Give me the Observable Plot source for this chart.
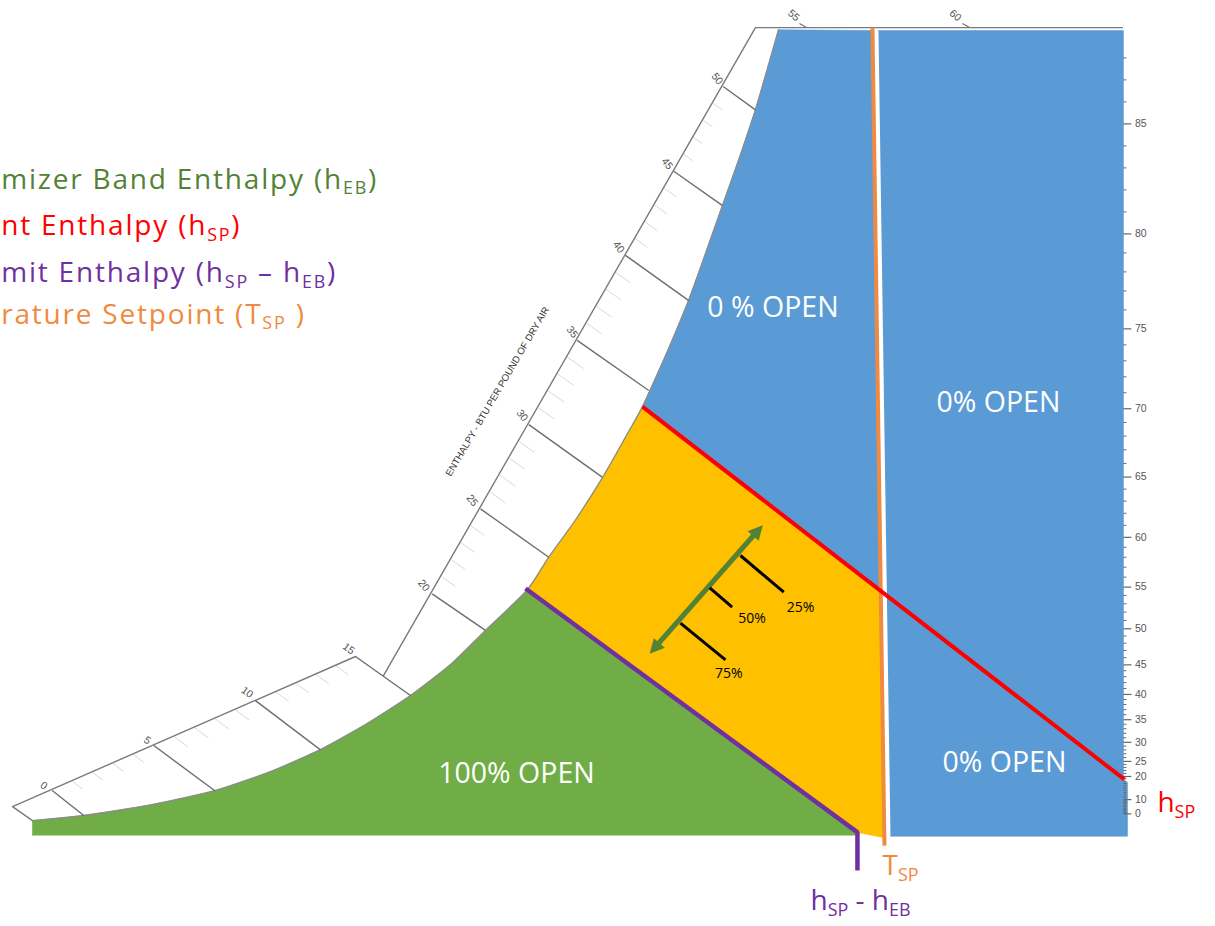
<!DOCTYPE html>
<html><head><meta charset="utf-8">
<script src="https://cdn.jsdelivr.net/npm/d3@7"></script>
<script src="https://cdn.jsdelivr.net/npm/@observablehq/plot@0.6"></script>
<style>body{margin:0;background:#fff;overflow:hidden} #chart svg{display:block}</style>
</head><body><div id="chart"></div>
<script>
// ---- Diagram data: x = dry-bulb temperature (°F), y = humidity ratio (lb water / 1000 lb dry air)
const satCurve = [[-23.35,0.48],[-15.62,0.67],[-5.47,1.06],[4.38,1.60],[12.71,2.30],[20.28,3.12],[27.10,4.05],[33.92,5.13],[39.98,6.28],[45.28,7.55],[51.65,9.07],[54.83,10.26],[59.07,11.71],[63.01,13.23],[66.65,14.80],[69.07,15.87],[73.16,18.10],[76.04,19.81],[78.62,21.56],[81.19,23.35],[83.77,25.13],[86.19,26.91],[88.01,28.44],[89.68,29.88]];
const lowLimitIdx = 10;   // saturation point where low-limit enthalpy line starts
const setpointIdx = 15;   // saturation point where setpoint enthalpy line starts
const outerLower = [[-23.35,0.48],[-26.38,1.00],[25.59,6.58]];
const outerUpper = [[29.83,5.87],[86.19,29.96],[141.8,29.96]];
const enthalpyValues = [0,5,10,15,20,25,30,35,40,45,50];
const enthalpyOuter = [[-20.37,1.60],[-4.97,3.27],[10.44,4.94],[25.59,6.58],[37.21,8.91],[44.53,12.07],[51.85,15.20],[59.18,18.33],[66.50,21.49],[73.82,24.62],[81.30,27.77]];
const enthalpyInner = [[-15.58,0.67],[4.38,1.57],[20.28,3.11],[33.92,5.13],[45.28,7.55],[54.88,10.27],[62.97,13.25],[70.03,16.47],[76.09,19.81],[81.15,23.35],[86.19,26.90]];
const enthalpyLabels = ["0","5","10","15","20","25","30","35","40","45","50","55","60"];
const enthalpyLabelPos = [[-21.64,1.78],[-5.97,3.46],[9.18,5.25],[24.57,6.87],[35.94,9.22],[43.27,12.38],[50.85,15.54],[58.42,18.64],[65.48,21.80],[72.82,24.90],[80.39,28.06],[92.00,30.41],[116.50,30.41]];
const topTicks = [[92.86,30.11,93.92,29.96],[117.56,30.11,118.62,29.96]];
const enthalpyTitle = {text:"ENTHALPY - BTU PER POUND OF DRY AIR", x:47.10, y:16.43};
const dewPointTicks = [0,10,20,25,30,35,40,45,50,55,60,65,70,75,80,85];
const dewPointW = [0.73,1.26,2.12,2.68,3.39,4.23,5.17,6.27,7.61,9.16,11.01,13.25,15.79,18.76,22.29,26.38];
const axisT = 141.95;
const chartBottom = -0.07;
const chartTop = 29.85;
const setpointEnthalpyLine = [[69.07,15.87],[142.10,2.01]];
const lowLimitLine = [[51.35,9.11],[101.65,0.04],[101.65,-1.375]];
const tempSetpointLine = [[103.92,29.96],[105.74,-0.45]];
const setpointCross = [105.13,9.03];
const yellowBottomRight = [105.59,-0.15];
const blueRightRegion = [[104.83,chartTop],[141.95,chartTop],[141.95,1.97],[142.56,1.90],[142.56,-0.1],[106.65,-0.1]];
const blueLeftTop = [103.92,chartTop];
const bandArrow = [[70.03,6.654],[87.36,11.487]];
const percentLabels = ["25%","50%","75%"];
const percentLines = [[83.92,10.335,90.48,8.970],[79.27,9.134,82.66,8.413],[74.83,7.818,81.65,6.457]];
const percentLabelPos = [[93.01,8.413],[85.69,7.981],[82.15,5.937]];
const regionLabels = ["0 % OPEN","0% OPEN","0% OPEN","100% OPEN"];
const regionLabelPos = [[88.85,19.535],[123.01,16.022],[123.92,2.639],[49.98,2.230]];
// legend, as far as it is visible at the left edge of the picture
const legendLabels = ["mizer Band Enthalpy (h_{EB})","nt Enthalpy (h_{SP})","mit Enthalpy (h_{SP} \u2013 h_{EB})","rature Setpoint (T_{SP} )"];
const legendColors = ["#548235","#FF0000","#7030A0","#F08A40"];
const legendX = -28.1;
const legendY = [24.30,22.57,20.83,19.28];
const callouts = [
  {text:"h_{SP}", x:147.10, y:1.126, color:"#FF0000"},
  {text:"T_{SP}", x:105.44, y:-1.216, color:"#F08A40"},
  {text:"h_{SP} - h_{EB}", x:94.53, y:-2.528, color:"#7030A0"}
];

// ---- build
const W = 1215, H = 926;
const xDomain = [-28.2, 155.9], yDomain = [-3.457, 30.967];
const xs = d3.scaleLinear(xDomain, [0, W]);
const ys = d3.scaleLinear(yDomain, [H, 0]);

const greenRegion = [[satCurve[0][0], chartBottom], ...satCurve.slice(0, lowLimitIdx + 1), [lowLimitLine[1][0], lowLimitLine[1][1]], [lowLimitLine[1][0], chartBottom]];
const yellowRegion = [...satCurve.slice(lowLimitIdx, setpointIdx + 1), setpointCross, yellowBottomRight, [lowLimitLine[1][0], lowLimitLine[1][1]]];
const blueLeftRegion = [...satCurve.slice(setpointIdx), blueLeftTop, setpointCross];

const enthalpyLinks = enthalpyValues.map((v, i) => ({v, x1: enthalpyOuter[i][0], y1: enthalpyOuter[i][1], x2: enthalpyInner[i][0], y2: enthalpyInner[i][1]}));
// 1-BTU minor ticks between labelled enthalpy marks of the same scale segment
const minorEnthalpy = [];
for (let i = 0; i < enthalpyValues.length - 1; i++) {
  if (enthalpyValues[i] === 15) continue; // the scale breaks between 15 and 20
  const o0 = enthalpyOuter[i], o1 = enthalpyOuter[i + 1];
  const dx = (enthalpyInner[i][0] - o0[0] + enthalpyInner[i + 1][0] - o1[0]) / 2;
  const dy = (enthalpyInner[i][1] - o0[1] + enthalpyInner[i + 1][1] - o1[1]) / 2;
  for (let k = 1; k < 5; k++) {
    const t = k / 5, px = o0[0] + t * (o1[0] - o0[0]), py = o0[1] + t * (o1[1] - o0[1]);
    minorEnthalpy.push({x1: px, y1: py, x2: px + dx * 0.22, y2: py + dy * 0.22});
  }
}
const dewScale = d3.scaleLinear(dewPointTicks, dewPointW);
const minorDew = d3.range(0, 89).filter(d => !dewPointTicks.includes(d));
const majorTicks = dewPointTicks.map((d, i) => ({d, w: dewPointW[i]}));
const minorTicks = minorDew.map(d => ({d, w: dewScale(d)}));

// arrow heads (screen-direction aware)
const [a0, a1] = bandArrow;
const dxp = xs(a1[0]) - xs(a0[0]), dyp = ys(a1[1]) - ys(a0[1]);
const len = Math.hypot(dxp, dyp), ux = dxp / len, uy = dyp / len;
const back = 7;
const headA = {x: xs.invert(xs(a1[0]) - ux * back), y: ys.invert(ys(a1[1]) - uy * back), r: Math.atan2(ux, -uy) * 180 / Math.PI};
const headB = {x: xs.invert(xs(a0[0]) + ux * back), y: ys.invert(ys(a0[1]) + uy * back), r: Math.atan2(-ux, uy) * 180 / Math.PI};

const SANS = "'Open Sans', Lato, sans-serif";
const SMALL = "'Liberation Sans', Arial, sans-serif";
const X = d => d[0], Y = d => d[1];
const region = (pts, fill) => Plot.line(pts, {x: X, y: Y, fill, stroke: fill, strokeWidth: 0.6, curve: "linear"});

const svg = Plot.plot({
  width: W, height: H, margin: 0,
  x: {domain: xDomain, axis: null},
  y: {domain: yDomain, axis: null},
  style: {background: "#fff", overflow: "visible"},
  marks: [
    region(greenRegion, "#70AD47"),
    region(yellowRegion, "#FFC000"),
    region(blueLeftRegion, "#5B9BD5"),
    region(blueRightRegion, "#5B9BD5"),
    // enthalpy scale
    Plot.link(minorEnthalpy, {x1: "x1", y1: "y1", x2: "x2", y2: "y2", stroke: "#d9d9d9", strokeWidth: 1}),
    Plot.line(satCurve, {x: X, y: Y, stroke: "#8c8c8c", strokeWidth: 1.3, curve: "catmull-rom"}),
    Plot.line(outerLower, {x: X, y: Y, stroke: "#7a7a7a", strokeWidth: 1.4}),
    Plot.line(outerUpper, {x: X, y: Y, stroke: "#7a7a7a", strokeWidth: 1.4}),
    Plot.link(enthalpyLinks, {x1: "x1", y1: "y1", x2: "x2", y2: "y2", stroke: "#6e6e6e", strokeWidth: 1.4}),
    Plot.link(topTicks, {x1: d => d[0], y1: d => d[1], x2: d => d[2], y2: d => d[3], stroke: "#6e6e6e", strokeWidth: 1.2}),
    Plot.text(enthalpyLabels, {x: (d, i) => enthalpyLabelPos[i][0], y: (d, i) => enthalpyLabelPos[i][1], text: d => d,
      rotate: (d, i) => i < 4 ? 35 : i < 11 ? 52 : 40, fontSize: 10.5, fontFamily: SMALL, fill: "#555"}),
    Plot.text([enthalpyTitle], {x: "x", y: "y", text: "text", rotate: -59.5, fontSize: 9.6, fontFamily: SMALL, fill: "#333"}),
    // right dew point axis
    Plot.link(minorTicks, {x1: axisT, x2: axisT + 0.45, y1: "w", y2: "w", stroke: "#666", strokeWidth: 1}),
    Plot.link(majorTicks, {x1: axisT, x2: axisT + 1.2, y1: "w", y2: "w", stroke: "#666", strokeWidth: 1.2}),
    Plot.text(majorTicks, {x: axisT + 1.75, y: "w", text: d => String(d.d), textAnchor: "start", fontSize: 10.5, fontFamily: SMALL, fill: "#555"}),
    // control lines
    Plot.line(tempSetpointLine, {x: X, y: Y, stroke: "#F08A40", strokeWidth: 4, strokeLinecap: "butt"}),
    Plot.line(setpointEnthalpyLine, {x: X, y: Y, stroke: "#FF0000", strokeWidth: 4, strokeLinecap: "butt"}),
    Plot.line(lowLimitLine, {x: X, y: Y, stroke: "#7030A0", strokeWidth: 4.5, strokeLinecap: "butt", strokeLinejoin: "miter"}),
    // economizer band arrow
    Plot.link([{}], {x1: headB.x, y1: headB.y, x2: headA.x, y2: headA.y, stroke: "#548235", strokeWidth: 5}),
    Plot.text([headA, headB], {x: "x", y: "y", rotate: "r", text: () => "\u25B2", fontSize: 19, fontFamily: "DejaVu Sans", fill: "#548235"}),
    Plot.link(percentLines, {x1: d => d[0], y1: d => d[1], x2: d => d[2], y2: d => d[3], stroke: "#000", strokeWidth: 3}),
    Plot.text(percentLabels, {x: (d, i) => percentLabelPos[i][0], y: (d, i) => percentLabelPos[i][1], text: d => d, fontSize: 14, fontFamily: SANS, fill: "#000"}),
    // region labels
    Plot.text(regionLabels, {x: (d, i) => regionLabelPos[i][0], y: (d, i) => regionLabelPos[i][1], text: d => d, fontSize: 28.5, fontFamily: SANS, fill: "#fff"}),
    // callouts
    Plot.text(callouts, {x: "x", y: "y", text: "text", fill: "color", textAnchor: "start", fontSize: 28, fontFamily: SANS}),
    // legend
    Plot.text(legendLabels, {x: legendX, y: (d, i) => legendY[i], text: d => d, fill: (d, i) => legendColors[i], textAnchor: "start", fontSize: 28, fontFamily: SANS})
  ]
});
document.getElementById("chart").appendChild(svg);

// subscripts: convert "_{..}" into lowered, smaller tspans
d3.select(svg).selectAll("text").each(function() {
  const s = this.textContent;
  if (!s.includes("_{")) return;
  const fs = parseFloat(getComputedStyle(this).fontSize) || 28;
  if (legendLabels.includes(s)) this.setAttribute("letter-spacing", "1.8");
  const parts = s.split(/_\{([^}]*)\}/);
  this.textContent = "";
  let shift = 0;
  parts.forEach((p, i) => {
    if (!p) return;
    const target = i % 2 === 1 ? fs * 0.2 : 0;
    const t = d3.select(this).append("tspan").text(p);
    if (i % 2 === 1) t.attr("font-size", fs * 0.64);
    if (target !== shift) t.attr("dy", target - shift);
    shift = target;
  });
});
</script></body></html>
